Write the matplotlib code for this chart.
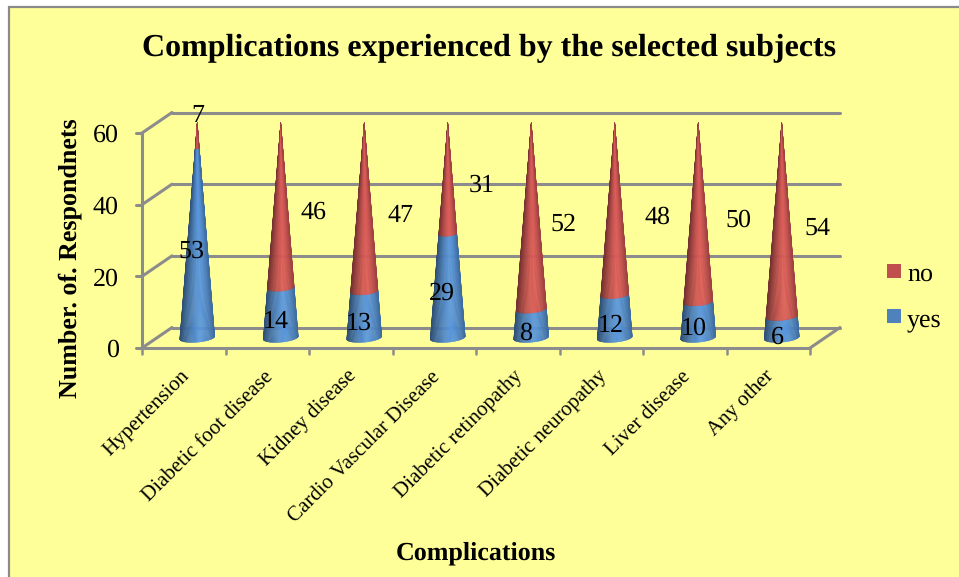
import matplotlib
matplotlib.use('Agg')
import matplotlib.pyplot as plt
from matplotlib.collections import PolyCollection
import numpy as np

categories = ['Hypertension', 'Diabetic foot disease', 'Kidney disease', 'Cardio Vascular Disease',
              'Diabetic retinopathy', 'Diabetic neuropathy', 'Liver disease', 'Any other']
yes_values = [53, 14, 13, 29, 8, 12, 10, 6]
no_values = [7, 46, 47, 31, 52, 48, 50, 54]
y_ticks = [0, 20, 40, 60]

plt.rcParams['font.family'] = ['Liberation Serif', 'DejaVu Serif']
plt.rcParams['text.hinting'] = 'none'
plt.rcParams['text.hinting_factor'] = 1

W, H = 959, 577
BG = '#FFFF99'
GRID = '#8C8C8C'
BLUE = np.array([0x4F, 0x86, 0xC6]) / 255
RED = np.array([0xC4, 0x52, 0x50]) / 255

fig = plt.figure(figsize=(W / 100, H / 100), dpi=100, facecolor='white')

# yellow panel behind the chart, grey line on its left and top edges
bg = fig.add_axes([0, 0, 1, 1], zorder=0)
bg.set_xlim(0, W)
bg.set_ylim(H, 0)
bg.axis('off')
bg.fill_between([9, W], 6.5, H, color=BG, lw=0)
bg.plot([9, 9, W], [H, 6.5, 6.5], color='#8A8A8A', lw=1.6, solid_joinstyle='miter')

# axes cover the front plane of the 3d box
left, right, bottom, top = 142, 810, 348, 133
ax = fig.add_axes([left / W, 1 - bottom / H, (right - left) / W, (bottom - top) / H], zorder=1)
ax.set_xlim(0, len(categories))
ax.set_ylim(0, 60)
ax.patch.set_alpha(0)
for s in ax.spines.values():
    s.set_visible(False)
ax.set_xticks([])
ax.set_yticks([])

# oblique depth of the box, in data units
depth_x = 30 / ((right - left) / len(categories))
depth_y = 20.5 / ((bottom - top) / 60)


def line(xs, ys, lw=2.2):
    ax.plot(xs, ys, color=GRID, lw=lw, clip_on=False, solid_capstyle='round', zorder=1)


# back wall gridlines, the side wall and the floor
for t in y_ticks:
    line([0, depth_x], [t, t + depth_y])
    line([depth_x, 8 + depth_x], [t + depth_y, t + depth_y])
    line([-0.07, 0], [t, t])
line([0, 0], [0, 60])
line([0, 8], [0, 0])
line([8, 8 + depth_x], [0, depth_y])
for i in range(len(categories) + 1):
    line([i, i], [0, -1.6], lw=1.8)

for t in y_ticks:
    ax.text(-0.28, t, str(t), ha='right', va='center_baseline', fontsize=18.5)


def shade(u, color):
    # lighter just right of the middle, darker towards both edges
    c = np.cos(u)
    light = 1.12 - 0.42 * np.abs(c - 0.2) ** 1.4
    return np.clip(color * light[:, np.newaxis], 0, 1)


def cone_part(xc, yc, v0, v1, height, color):
    radius = 17.5 / ((right - left) / len(categories))
    flat = 4.5 / ((bottom - top) / 60)
    tilt = 1.5 / ((bottom - top) / 60)
    uu = np.linspace(np.pi, 2 * np.pi, 49)

    def point(u, v):
        r = 1 - v / height
        return xc + radius * r * np.cos(u), yc + v + r * (flat * np.sin(u) + tilt * np.cos(u))

    # long thin strips from the lower edge to the upper edge of this part
    strips = [[point(a, v0), point(b, v0), point(b, v1), point(a, v1)] for a, b in zip(uu[:-1], uu[1:])]
    colors = shade((uu[:-1] + uu[1:]) / 2, color)
    ax.add_collection(PolyCollection(strips, facecolors=colors, edgecolors=colors, linewidths=0.3,
                                     clip_on=False, zorder=3), autolim=False)


# stacked cones, label positions as placed on the chart
yes_label_pos = [(191, 249), (276, 319), (359, 321), (442, 291), (526, 331), (611, 323), (694, 326), (777, 335)]
no_label_pos = [(198, 113), (313, 210), (400, 213), (482, 183), (563, 222), (657, 215), (738, 218), (817, 226)]
for i, (yes, no) in enumerate(zip(yes_values, no_values)):
    xc = i + 0.5 + 0.45 * depth_x
    yc = depth_y / 2
    total = yes + no
    cone_part(xc, yc, 0, yes, total, BLUE)
    cone_part(xc, yc, yes, total, total, RED)
    for val, (px, py) in ((yes, yes_label_pos[i]), (no, no_label_pos[i])):
        ax.text((px - left) / (right - left) * 8, (bottom - py) / (bottom - top) * 60, str(val),
                ha='center', va='center_baseline', fontsize=18.5, zorder=5, clip_on=False)

for i, name in enumerate(categories):
    ax.text(i + 0.45, -5.2, name, rotation=45, rotation_mode='anchor', ha='right', va='top',
            fontsize=15, clip_on=False)

# text placed on the full-figure layer
bg.text(489, 48, 'Complications experienced by the selected subjects', ha='center', va='center',
        fontsize=23, fontweight='bold')
bg.text(70, 258, 'Number. of. Respondnets', rotation=90, ha='center', va='center',
        fontsize=19, fontweight='bold')
bg.text(476, 553, 'Complications', ha='center', va='center', fontsize=19, fontweight='bold')

# legend swatches
bg.fill_between([887, 901], 264, 278, color='#C0504D', lw=0)
bg.fill_between([887, 901], 309, 323, color='#4F81BD', lw=0)
bg.text(907, 272, 'no', ha='left', va='center_baseline', fontsize=19)
bg.text(907, 317, 'yes', ha='left', va='center_baseline', fontsize=19)

fig.savefig('out.png', dpi=100, facecolor=fig.get_facecolor())
